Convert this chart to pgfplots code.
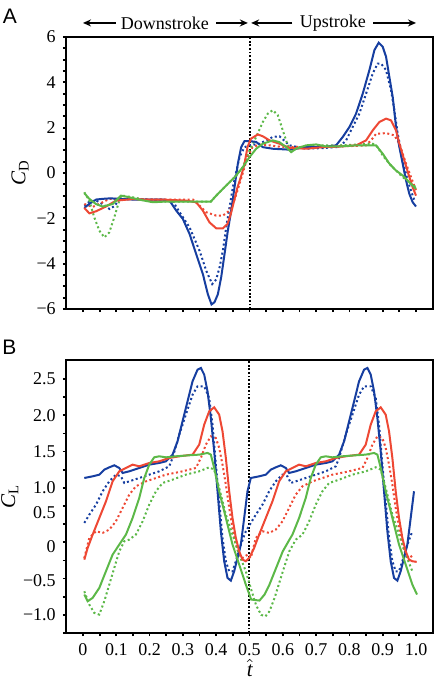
\documentclass[border=0pt]{standalone}
\usepackage{fontspec}
\setmainfont{Liberation Serif}
\setsansfont{Liberation Sans}
\usepackage{pgfplots}
\pgfplotsset{compat=1.18}
\usetikzlibrary{arrows.meta}
\definecolor{cblue}{RGB}{22,62,160}
\definecolor{cred}{RGB}{238,72,52}
\definecolor{cgreen}{RGB}{92,184,72}
\pgfplotsset{
  panel/.style={
    scale only axis, width=183.5pt, xmin=-0.051, xmax=1.051,
    axis line style={line width=0.9pt},
    tick align=outside, major tick length=1.6pt, minor tick length=1.6pt,
    every tick/.style={black, line width=0.9pt},
    xtick={0,0.1,0.2,0.3,0.4,0.5,0.6,0.7,0.8,0.9,1},
    minor x tick num=1,
    xtick pos=left, ytick pos=left,
    tick label style={font=\fontsize{9}{10}\selectfont},
    clip=false,
  },
  sol/.style={line width=1pt},
  dot/.style={line width=1pt, dash pattern=on 1pt off 1.3pt},
  vline/.style={black, line width=1pt, dash pattern=on 0.9pt off 0.9pt},
}
\begin{document}
\begin{tikzpicture}
\useasboundingbox (0,0) rectangle (219pt,-340pt);
\node[font=\sffamily\fontsize{10.5}{12}\selectfont] at (5pt,-8.25pt) {A};
\node[font=\sffamily\fontsize{10.5}{12}\selectfont] at (4.75pt,-173.5pt) {B};
% ---------------- Panel A ----------------
\begin{axis}[panel, at={(33pt,-18.5pt)}, anchor=north west, height=136pt,
  ymin=-6, ymax=6, ytick={-6,-4,-2,0,2,4,6}, minor y tick num=3,
  yticklabels={−6,−4,−2,0,2,4,6}, xticklabels={},
  ylabel={\textit{C}\textsubscript{D}},
  every axis y label/.style={at={(axis description cs:-0.125,0.5)}, rotate=90, anchor=center, font=\fontsize{10.5}{12}\selectfont},
]
\addplot[vline] coordinates {(0.5,-6) (0.5,6)};
% blue dotted
\addplot[cblue, dot] coordinates {(0.004,-1.44)(0.02,-1.25)(0.04,-1.22)(0.06,-1.38)(0.08,-1.59)(0.095,-1.45)(0.11,-1.15)(0.15,-1.15)(0.2,-1.17)(0.25,-1.18)(0.27,-1.25)(0.29,-1.73)(0.32,-2.4)(0.35,-3.43)(0.37,-4.31)(0.388,-4.9)(0.4,-4.7)(0.41,-4.17)(0.42,-3.43)(0.43,-2.4)(0.44,-1.51)(0.45,-0.63)(0.46,0.04)(0.47,0.7)(0.485,1.14)(0.5,1.22)(0.53,1.29)(0.57,1.59)(0.59,1.62)(0.62,1.22)(0.67,1.07)(0.72,1.1)(0.77,1.15)(0.79,1.44)(0.81,2.03)(0.83,2.62)(0.85,3.5)(0.87,4.39)(0.885,4.83)(0.895,4.83)(0.91,4.54)(0.925,3.65)(0.935,2.77)(0.945,1.73)(0.955,1.0)(0.965,0.26)(0.975,-0.33)(0.99,-1.0)(0.995,-1.2)};
% red dotted
\addplot[cred, dot] coordinates {(0.004,-1.37)(0.029,-1.5)(0.059,-1.29)(0.079,-1.14)(0.15,-1.15)(0.25,-1.17)(0.33,-1.17)(0.35,-1.44)(0.37,-1.73)(0.4,-1.88)(0.42,-1.88)(0.44,-1.66)(0.454,-1.22)(0.464,-0.77)(0.479,-0.04)(0.494,0.7)(0.509,1.14)(0.53,1.25)(0.56,1.22)(0.6,1.14)(0.65,1.15)(0.75,1.15)(0.85,1.22)(0.865,1.44)(0.88,1.73)(0.91,1.76)(0.935,1.66)(0.95,1.29)(0.97,0.41)(0.985,-0.18)(1.0,-0.77)};
% green dotted
\addplot[cgreen, dot] coordinates {(0.004,-0.85)(0.019,-1.22)(0.034,-1.96)(0.049,-2.54)(0.064,-2.84)(0.079,-2.62)(0.094,-1.96)(0.109,-1.22)(0.119,-1.0)(0.149,-1.07)(0.2,-1.22)(0.25,-1.26)(0.3,-1.26)(0.384,-1.26)(0.4,-1.0)(0.42,-0.7)(0.44,-0.41)(0.46,-0.11)(0.48,0.26)(0.5,1.0)(0.52,1.59)(0.54,2.25)(0.555,2.62)(0.57,2.77)(0.585,2.55)(0.6,1.88)(0.615,1.22)(0.63,1.0)(0.65,1.14)(0.69,1.22)(0.77,1.22)(0.87,1.29)(0.885,1.14)(0.9,0.77)(0.92,0.41)(0.94,0.11)(0.96,-0.18)(0.98,-0.41)(1.0,-0.63)};
% blue solid
\addplot[cblue, sol] coordinates {(0.004,-1.54)(0.02,-1.35)(0.04,-1.17)(0.06,-1.14)(0.08,-1.12)(0.1,-1.13)(0.12,-1.15)(0.16,-1.18)(0.2,-1.18)(0.24,-1.18)(0.26,-1.22)(0.28,-1.66)(0.3,-2.03)(0.32,-2.69)(0.34,-3.58)(0.36,-4.46)(0.375,-5.35)(0.386,-5.8)(0.395,-5.7)(0.405,-5.35)(0.415,-4.6)(0.425,-3.58)(0.435,-2.54)(0.445,-1.66)(0.455,-0.63)(0.465,0.41)(0.475,1.14)(0.485,1.41)(0.5,1.41)(0.52,1.37)(0.54,1.14)(0.57,1.07)(0.62,1.03)(0.67,1.14)(0.72,1.14)(0.76,1.22)(0.78,1.59)(0.8,2.03)(0.82,2.62)(0.84,3.5)(0.86,4.54)(0.875,5.42)(0.888,5.75)(0.9,5.57)(0.91,5.13)(0.92,4.24)(0.93,3.36)(0.94,2.03)(0.95,1.14)(0.96,0.41)(0.97,-0.33)(0.98,-0.92)(0.99,-1.29)(1.0,-1.48)};
% red solid
\addplot[cred, sol] coordinates {(0.004,-1.54)(0.019,-1.78)(0.039,-1.69)(0.069,-1.48)(0.099,-1.22)(0.15,-1.15)(0.2,-1.18)(0.25,-1.18)(0.31,-1.22)(0.34,-1.29)(0.36,-1.66)(0.38,-2.18)(0.4,-2.44)(0.42,-2.44)(0.434,-2.25)(0.444,-1.8)(0.454,-1.22)(0.464,-0.63)(0.474,-0.18)(0.484,0.33)(0.494,1.14)(0.504,1.51)(0.525,1.7)(0.54,1.62)(0.56,1.44)(0.59,1.29)(0.62,1.11)(0.67,1.07)(0.72,1.14)(0.77,1.17)(0.82,1.22)(0.85,1.44)(0.87,1.88)(0.89,2.25)(0.91,2.4)(0.925,2.32)(0.94,1.88)(0.95,1.29)(0.965,0.55)(0.98,-0.18)(0.99,-0.63)(1.0,-1.0)};
% green solid
\addplot[cgreen, sol] coordinates {(0.004,-0.89)(0.019,-1.14)(0.039,-1.37)(0.059,-1.48)(0.089,-1.37)(0.114,-1.0)(0.139,-1.07)(0.17,-1.18)(0.21,-1.29)(0.25,-1.26)(0.3,-1.26)(0.35,-1.26)(0.384,-1.26)(0.4,-1.0)(0.42,-0.7)(0.44,-0.41)(0.46,-0.11)(0.48,0.26)(0.5,0.7)(0.52,1.07)(0.54,1.29)(0.57,1.44)(0.59,1.36)(0.61,1.14)(0.625,0.92)(0.64,1.07)(0.67,1.22)(0.7,1.26)(0.73,1.17)(0.77,1.17)(0.82,1.22)(0.88,1.22)(0.9,0.85)(0.92,0.41)(0.94,0.11)(0.96,-0.11)(0.98,-0.41)(1.0,-0.7)};
% stroke annotations
\node[font=\fontsize{9}{10}\selectfont, inner sep=0pt] (dn) at (axis cs:0.246,6.62) {Downstroke};
\node[font=\fontsize{9}{10}\selectfont, inner sep=0pt] (up) at (axis cs:0.75,6.62) {Upstroke};
\draw[-{Stealth[length=4pt,width=3.5pt]}, line width=0.8pt] ([xshift=-2.5pt]dn.west) -- (axis cs:0,6.62);
\draw[-{Stealth[length=4pt,width=3.5pt]}, line width=0.8pt] ([xshift=3.5pt]dn.east) -- (axis cs:0.495,6.62);
\draw[-{Stealth[length=4pt,width=3.5pt]}, line width=0.8pt] ([xshift=-3.5pt]up.west) -- (axis cs:0.505,6.62);
\draw[-{Stealth[length=4pt,width=3.5pt]}, line width=0.8pt] ([xshift=3.5pt]up.east) -- (axis cs:1.0,6.62);
\end{axis}
% ---------------- Panel B ----------------
\begin{axis}[panel, at={(33pt,-180pt)}, anchor=north west, height=136.5pt,
  ymin=-1, ymax=2.762,
  ytick={-0.751,-0.282,0.186,0.654,1,1.5,2,2.5},
  yticklabels={−1.0,−0.5,0,0.5,1.0,1.5,2.0,2.5},
  major y tick style={draw=none},
  minor ytick={-1,-0.75,-0.5,-0.25,0,0.25,0.5,0.75,1,1.25,1.5,1.75,2,2.25,2.5},
  xticklabels={0,0.1,0.2,0.3,0.4,0.5,0.6,0.7,0.8,0.9,1.0},
  ylabel={\textit{C}\textsubscript{L}},
  every axis y label/.style={at={(axis description cs:-0.153,0.5)}, rotate=90, anchor=center, font=\fontsize{10.5}{12}\selectfont},
  xlabel={$\hat{\textit{t}}$},
  every axis x label/.style={at={(axis description cs:0.501,-0.128)}, anchor=center, inner sep=0pt, font=\fontsize{10.5}{12}\selectfont},
]
\addplot[vline] coordinates {(0.5,-1) (0.5,2.762)};
% blue dotted
\addplot[cblue, dot] coordinates {(0.004,0.517)(0.019,0.631)(0.039,0.769)(0.059,0.953)(0.079,1.090)(0.099,1.182)(0.114,1.159)(0.124,1.067)(0.139,1.090)(0.169,1.136)(0.199,1.182)(0.229,1.228)(0.259,1.297)(0.269,1.412)(0.289,1.733)(0.309,2.009)(0.329,2.284)(0.344,2.399)(0.364,2.399)(0.379,2.238)(0.389,1.871)(0.399,1.320)(0.409,0.815)(0.419,0.310)(0.429,-0.011)(0.439,-0.149)(0.449,-0.149)(0.459,-0.011)(0.474,0.218)(0.489,0.402)
(0.504,0.517)(0.519,0.631)(0.539,0.769)(0.559,0.953)(0.579,1.090)(0.599,1.182)(0.614,1.159)(0.624,1.067)(0.639,1.090)(0.669,1.136)(0.699,1.182)(0.729,1.228)(0.759,1.297)(0.769,1.412)(0.789,1.733)(0.809,2.009)(0.829,2.284)(0.844,2.399)(0.864,2.399)(0.879,2.238)(0.889,1.871)(0.899,1.320)(0.909,0.815)(0.919,0.310)(0.929,-0.011)(0.939,-0.149)(0.949,-0.149)(0.959,-0.011)(0.974,0.218)(0.989,0.402)};
% red dotted
\addplot[cred, dot] coordinates {(0.004,0.034)(0.019,0.310)(0.039,0.402)(0.059,0.379)(0.079,0.425)(0.099,0.539)(0.119,0.723)(0.139,0.907)(0.159,1.022)(0.189,1.090)(0.219,1.136)(0.249,1.182)(0.299,1.228)(0.339,1.274)(0.354,1.412)(0.369,1.596)(0.384,1.710)(0.399,1.687)(0.409,1.550)(0.419,1.320)(0.429,1.045)(0.439,0.723)(0.449,0.448)(0.459,0.218)(0.469,0.080)(0.479,0.034)(0.494,0.080)
(0.504,0.034)(0.519,0.310)(0.539,0.402)(0.559,0.379)(0.579,0.425)(0.599,0.539)(0.619,0.723)(0.639,0.907)(0.659,1.022)(0.689,1.090)(0.719,1.136)(0.749,1.182)(0.799,1.228)(0.839,1.274)(0.854,1.412)(0.869,1.596)(0.884,1.710)(0.899,1.687)(0.909,1.550)(0.919,1.320)(0.929,1.045)(0.939,0.723)(0.949,0.448)(0.959,0.218)(0.969,0.080)(0.979,0.034)(0.994,0.080)};
% green dotted
\addplot[cgreen, dot] coordinates {(0.004,-0.425)(0.019,-0.608)(0.034,-0.723)(0.049,-0.746)(0.064,-0.562)(0.079,-0.333)(0.094,-0.103)(0.109,0.126)(0.124,0.264)(0.139,0.287)(0.159,0.356)(0.179,0.539)(0.199,0.769)(0.219,0.953)(0.239,1.067)(0.269,1.113)(0.309,1.182)(0.349,1.228)(0.379,1.283)(0.394,1.251)(0.409,0.999)(0.429,0.631)(0.449,0.356)(0.469,0.080)(0.489,-0.149)
(0.505,-0.40)(0.52,-0.62)(0.535,-0.75)(0.548,-0.77)(0.56,-0.70)(0.575,-0.52)(0.59,-0.30)(0.605,-0.08)(0.62,0.13)(0.639,0.287)(0.659,0.356)(0.679,0.539)(0.699,0.769)(0.719,0.953)(0.739,1.067)(0.769,1.113)(0.809,1.182)(0.849,1.228)(0.879,1.283)(0.894,1.251)(0.909,0.999)(0.929,0.631)(0.949,0.356)(0.969,0.080)(0.989,-0.149)};
% blue solid
\addplot[cblue, sol] coordinates {(0.004,1.136)(0.029,1.159)(0.049,1.182)(0.064,1.251)(0.079,1.283)(0.094,1.311)(0.109,1.274)(0.119,1.205)(0.139,1.228)(0.169,1.274)(0.199,1.320)(0.229,1.343)(0.249,1.366)(0.269,1.458)(0.284,1.641)(0.299,1.917)(0.314,2.192)(0.329,2.468)(0.344,2.629)(0.354,2.652)(0.364,2.560)(0.374,2.330)(0.384,1.963)(0.394,1.504)(0.404,0.953)(0.414,0.402)(0.424,-0.011)(0.434,-0.241)(0.444,-0.278)(0.454,-0.149)(0.464,0.034)(0.474,0.218)(0.484,0.585)(0.494,0.953)
(0.504,1.136)(0.529,1.159)(0.549,1.182)(0.564,1.251)(0.579,1.283)(0.594,1.311)(0.609,1.274)(0.619,1.205)(0.639,1.228)(0.669,1.274)(0.699,1.320)(0.729,1.343)(0.749,1.366)(0.769,1.458)(0.784,1.641)(0.799,1.917)(0.814,2.192)(0.829,2.468)(0.844,2.629)(0.854,2.652)(0.864,2.560)(0.874,2.330)(0.884,1.963)(0.894,1.504)(0.904,0.953)(0.914,0.402)(0.924,-0.011)(0.934,-0.241)(0.944,-0.278)(0.954,-0.149)(0.964,0.034)(0.974,0.218)(0.984,0.585)(0.994,0.953)};
% red solid
\addplot[cred, sol] coordinates {(0.004,0.011)(0.014,0.172)(0.029,0.356)(0.049,0.585)(0.069,0.815)(0.089,1.090)(0.109,1.228)(0.129,1.274)(0.149,1.320)(0.169,1.297)(0.199,1.343)(0.229,1.366)(0.259,1.412)(0.289,1.435)(0.329,1.458)(0.349,1.596)(0.364,1.871)(0.379,2.055)(0.394,2.110)(0.409,2.009)(0.419,1.779)(0.429,1.412)(0.439,0.953)(0.449,0.585)(0.459,0.310)(0.469,0.126)(0.479,0.011)(0.489,-0.011)(0.499,0.034)
(0.514,0.172)(0.529,0.356)(0.549,0.585)(0.569,0.815)(0.589,1.090)(0.609,1.228)(0.629,1.274)(0.649,1.320)(0.669,1.297)(0.699,1.343)(0.729,1.366)(0.759,1.412)(0.789,1.435)(0.829,1.458)(0.849,1.596)(0.864,1.871)(0.879,2.055)(0.894,2.110)(0.909,2.009)(0.919,1.779)(0.929,1.412)(0.939,0.953)(0.949,0.585)(0.959,0.310)(0.969,0.126)(0.979,0.011)(0.989,-0.011)(1.002,-0.02)};
% green solid
\addplot[cgreen, sol] coordinates {(0.004,-0.47)(0.014,-0.562)(0.029,-0.516)(0.049,-0.379)(0.069,-0.149)(0.089,0.080)(0.109,0.218)(0.129,0.356)(0.149,0.585)(0.169,0.861)(0.184,1.136)(0.199,1.320)(0.214,1.421)(0.229,1.435)(0.249,1.421)(0.279,1.435)(0.319,1.449)(0.349,1.458)(0.374,1.481)(0.384,1.458)(0.394,1.274)(0.409,0.953)(0.429,0.585)(0.449,0.218)(0.469,-0.057)(0.489,-0.333)
(0.505,-0.539)(0.53,-0.553)(0.545,-0.471)(0.56,-0.333)(0.58,-0.103)(0.6,0.126)(0.62,0.287)(0.629,0.356)(0.649,0.585)(0.669,0.861)(0.684,1.136)(0.699,1.320)(0.714,1.421)(0.729,1.435)(0.749,1.421)(0.779,1.435)(0.819,1.449)(0.849,1.458)(0.874,1.481)(0.884,1.458)(0.894,1.274)(0.909,0.953)(0.929,0.585)(0.949,0.218)(0.969,-0.057)(0.989,-0.333)(1.003,-0.47)};
\end{axis}
\end{tikzpicture}
\end{document}
